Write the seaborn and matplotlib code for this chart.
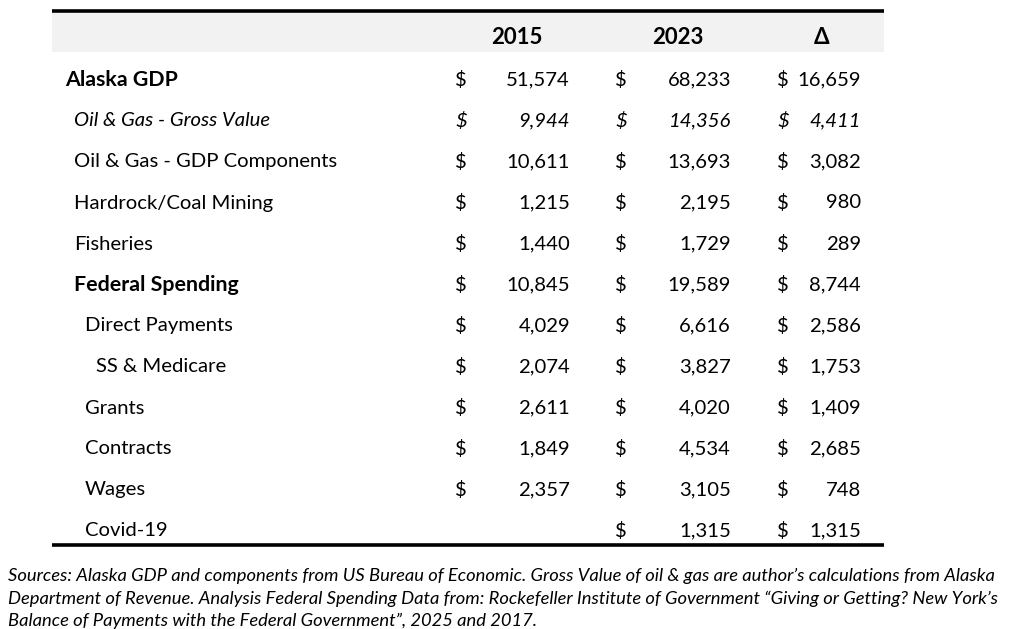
import matplotlib
matplotlib.use("Agg")
import matplotlib.pyplot as plt
import seaborn as sns

labels = ["Alaska GDP", "Oil & Gas - Gross Value", "Oil & Gas - GDP Components",
          "Hardrock/Coal Mining", "Fisheries", "Federal Spending", "Direct Payments",
          "SS & Medicare", "Grants", "Contracts", "Wages", "Covid-19"]
indent = [0, 1, 1, 1, 1, 1, 2, 3, 2, 2, 2, 2]
weights = ["bold", "normal", "normal", "normal", "normal", "bold",
           "normal", "normal", "normal", "normal", "normal", "normal"]
styles = ["normal", "italic"] + ["normal"] * 10
v2015 = [51574, 9944, 10611, 1215, 1440, 10845, 4029, 2074, 2611, 1849, 2357, None]
v2023 = [68233, 14356, 13693, 2195, 1729, 19589, 6616, 3827, 4020, 4534, 3105, 1315]
delta = [16659, 4411, 3082, 980, 289, 8744, 2586, 1753, 1409, 2685, 748, 1315]
headers = ["2015", "2023", "Δ"]
source = ("Sources: Alaska GDP and components from US Bureau of Economic. Gross Value of oil & gas are author’s calculations from Alaska\n"
          "Department of Revenue. Analysis Federal Spending Data from: Rockefeller Institute of Government “Giving or Getting? New York’s\n"
          "Balance of Payments with the Federal Government”, 2025 and 2017.")

sns.set_theme(style="white")
plt.rcParams["font.family"] = ["Lato", "DejaVu Sans"]

W, H = 1024, 629
fig = plt.figure(figsize=(W / 100, H / 100), dpi=100)
ax = fig.add_axes([0, 0, 1, 1])
ax.set_xlim(0, W)
ax.set_ylim(H, 0)
ax.axis("off")

left, right = 52, 884
top_line, header_bot = 11, 52
fs = 14.6
# header band
ax.fill_between([left, right], top_line, header_bot, color="#F2F2F2", lw=0)
ax.plot([left, right], [top_line, top_line], color="black", lw=2.6, solid_capstyle="butt")

hdr_x = [517, 678, 822]
for hx, h in zip(hdr_x, headers):
    ax.text(hx, 37, h, ha="center", va="center", fontsize=16, fontweight="bold", color="black")

row0, step = 80, 41
dollar_x = [461, 621, 783]
num_right = [570, 731, 861]
indent_x = [65, 74, 85, 96]

def fmt(v):
    return f"{v:,}"

for i, lab in enumerate(labels):
    y = row0 + i * step
    ax.text(indent_x[indent[i]], y, lab, ha="left", va="center",
            fontsize=fs + (0.8 if weights[i] == "bold" else 0),
            fontweight=weights[i], fontstyle=styles[i], color="black")
    for j, col in enumerate([v2015, v2023, delta]):
        v = col[i]
        if v is None:
            continue
        ax.text(dollar_x[j], y, "$", ha="center", va="center", fontsize=fs,
                fontstyle=styles[i], color="black")
        ax.text(num_right[j], y, fmt(v), ha="right", va="center", fontsize=fs,
                fontstyle=styles[i], color="black")

bot_line = row0 + (len(labels) - 1) * step + 14
ax.plot([left, right], [bot_line, bot_line], color="black", lw=2.6, solid_capstyle="butt")

ax.text(8, 568, source, ha="left", va="top", fontsize=13.2, fontstyle="italic",
        color="black", linespacing=1.45)

fig.savefig("out.png", dpi=100)
